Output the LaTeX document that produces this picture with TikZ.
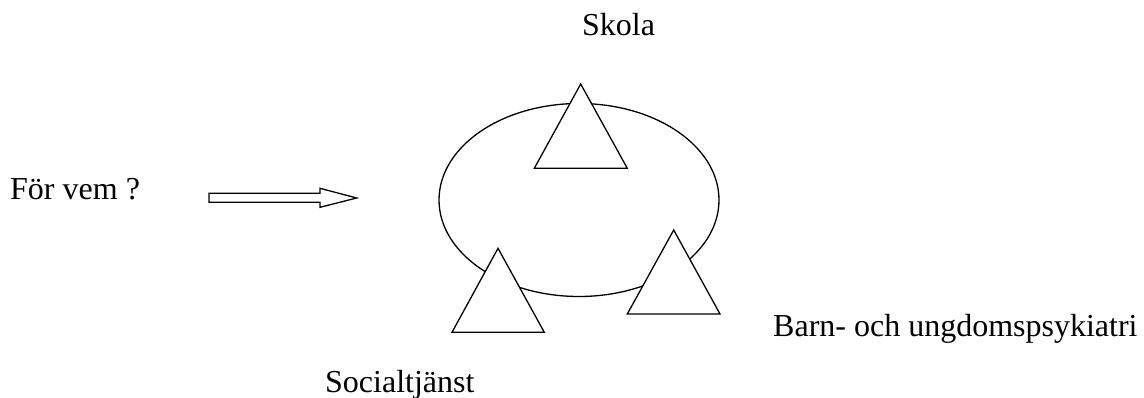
\documentclass[tikz,border=0pt]{standalone}
\usepackage{fontspec}
\setmainfont{Liberation Serif}
\begin{document}
\begin{tikzpicture}[x=1pt,y=-1pt,
  shape line/.style={draw=black,line width=1.3pt,line join=miter},
  tri/.style={shape line,fill=white},
  lbl/.style={inner sep=0pt,anchor=base west,font=\fontsize{32}{38}\selectfont}]
\useasboundingbox (0,0) rectangle (1144,398);
% labels
\node[lbl] (skola) at (582,36) {Skola};
\node[lbl] (forvem) at (10,200) {För vem ?};
\node[lbl] (bup) at (773,337) {Barn- och ungdomspsykiatri};
\node[lbl] (soc) at (325,392) {Socialtjänst};
% ellipse
\draw[shape line] (579,200) ellipse [x radius=140,y radius=96.5];
% triangles
\draw[tri] (580.7,84) -- (627.3,168.3) -- (534.3,168.3) -- cycle;
\draw[tri] (498,248.3) -- (544.3,332.3) -- (452,332.3) -- cycle;
\draw[tri] (673.7,230) -- (720,314) -- (627.3,314) -- cycle;
% arrow
\draw[shape line] (209,193.3) -- (320,193.3) -- (320,188.3) -- (356.7,198) -- (320,207.3) -- (320,202.3) -- (209,202.3) -- cycle;
\end{tikzpicture}
\end{document}
